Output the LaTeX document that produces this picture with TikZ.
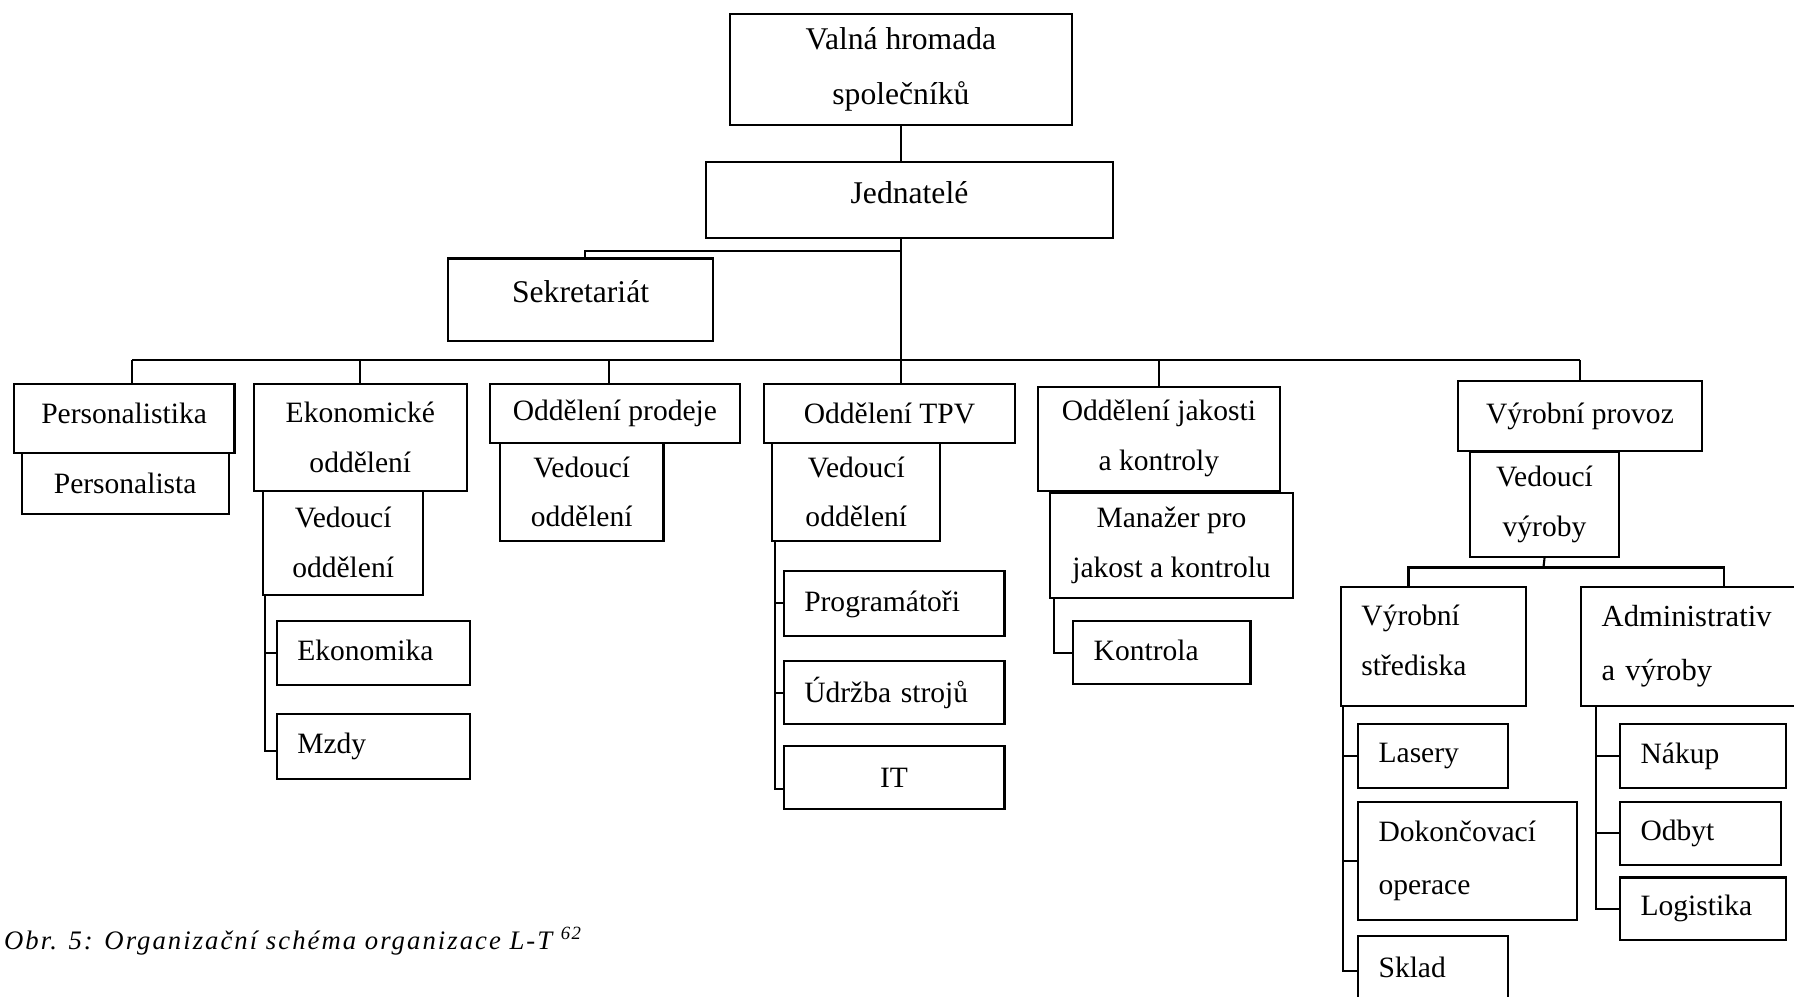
\documentclass[tikz,border=0pt]{standalone}
\usepackage{fontspec}
\setmainfont{Liberation Serif}

\def\px{0.011441cm}

\begin{document}
\begin{tikzpicture}[x=\px, y=-\px,
    box/.style={rectangle, draw, line width=0.6pt, anchor=north west, inner sep=0pt,
        align=center, font=\fontsize{8.4}{14.2}\selectfont},
    big/.style={font=\fontsize{9}{15.2}\selectfont},
    lbox/.style={box, align=left, inner xsep=18*\px},
    wh/.style 2 args={minimum width=#1*\px, minimum height=#2*\px},
    lwh/.style 2 args={text width=#1*\px-36*\px, minimum height=#2*\px},
    lift/.style={text depth=#1},
    link/.style={line width=0.6pt},
    caption/.style={anchor=base west, inner sep=0pt,
        font=\fontsize{7.6}{9}\selectfont\itshape\addfontfeatures{LetterSpace=7.6}}
]
\useasboundingbox (0,0) rectangle (1568,871);

% top
\node [box, big, wh={299}{97}, font=\fontsize{9}{15.6}\selectfont] (top) at (637,11) {Valná hromada\\společníků};
\node [box, big, wh={356}{66}, lift=4.4pt] (jed) at (616,141) {Jednatelé};
\node [box, big, wh={231}{72}, lift=4.4pt] (sek) at (391,225) {Sekretariát};

% departments
\node [box, wh={193}{60}, lift=3pt] (pers) at (11,335) {Personalistika};
\node [box, wh={181}{53}] (persa) at (18,395) {Personalista};

\node [box, wh={186}{93}] (eko) at (221,335) {Ekonomické\\oddělení};
\node [box, wh={140}{91}] (ekov) at (229,428) {Vedoucí\\oddělení};
\node [lbox, lwh={169}{56}, lift=1.5pt] (ekon) at (241,542) {Ekonomika};
\node [lbox, lwh={169}{57}] (mzdy) at (241,623) {Mzdy};

\node [box, wh={219}{51}] (prod) at (427,335) {Oddělení prodeje};
\node [box, wh={143}{86}] (prodv) at (436,386) {Vedoucí\\oddělení};

\node [box, wh={219}{51}] (tpv) at (667,335) {Oddělení TPV};
\node [box, wh={147}{86}] (tpvv) at (674,386) {Vedoucí\\oddělení};
\node [lbox, lwh={193}{57}, lift=1.5pt] (prog) at (684,498) {Programátoři};
\node [lbox, lwh={193}{55}] (udrz) at (684,577) {Údržba strojů};
\node [box, wh={193}{55}] (it) at (684,651) {IT};

\node [box, wh={212}{91}] (jak) at (906,337) {Oddělení jakosti\\a kontroly};
\node [box, wh={212}{92}] (man) at (917,430) {Manažer pro\\jakost a kontrolu};
\node [lbox, lwh={155}{55}, lift=1.5pt] (kont) at (937,542) {Kontrola};

\node [box, wh={214}{61}, lift=1.5pt] (vyr) at (1273,332) {Výrobní provoz};
\node [box, wh={130}{92}] (vyrv) at (1284,394) {Vedoucí\\výroby};
\node [lbox, lwh={162}{104}, lift=17.6pt] (stred) at (1171,512) {Výrobní\\střediska};
\node [lbox, lwh={200}{104}, font=\fontsize{8.7}{15.4}\selectfont] (adm) at (1381,512) {Administrativ\\a výroby};
\node [lbox, lwh={131}{56}] (las) at (1186,632) {Lasery};
\node [lbox, lwh={191}{103}, font=\fontsize{8.4}{15}\selectfont] (dok) at (1186,700) {Dokončovací\\operace};
\node [lbox, lwh={131}{56}] (skl) at (1186,817) {Sklad};
\node [lbox, lwh={145}{56}] (nak) at (1415,632) {Nákup};
\node [lbox, lwh={141}{55}] (odb) at (1415,700) {Odbyt};
\node [lbox, lwh={145}{55}] (log) at (1415,766) {Logistika};

% lines
\coordinate (sekj) at (787,219);
\coordinate (bus) at (787,315);
\coordinate (vj) at (1349,496);

\draw [link] (top.south) -- (top.south |- jed.north);
\draw [link] (top.south |- jed.south) -- (top.south |- tpv.north);
\draw [link] (sekj) -| ([xshift=4*\px]sek.north);
\draw [link] ([xshift=7*\px]pers.north |- bus) -- (vyr.north |- bus);
\draw [link] ([xshift=7*\px]pers.north |- bus) -- ([xshift=7*\px]pers.north);
\foreach \n in {eko, jak, vyr}
    \draw [link] (\n.north |- bus) -- (\n.north);
\draw [link] ([xshift=-5*\px]prod.north |- bus) -- ([xshift=-5*\px]prod.north);

\draw [link] ([xshift=3*\px]ekov.south west) |- (ekon.west);
\draw [link] ([xshift=3*\px]ekov.south west) |- ([yshift=-4*\px]mzdy.west);

\draw [link] ([xshift=3*\px]tpvv.south west) |- (prog.west);
\draw [link] ([xshift=3*\px]tpvv.south west) |- (udrz.west);
\draw [link] ([xshift=3*\px]tpvv.south west) |- ([yshift=-10*\px]it.west);

\draw [link] ([xshift=4*\px]man.south west) |- (kont.west);

\draw [link] (vyrv.south) -- (vj);
\draw [link] ([xshift=60*\px]stred.north west) |- (vj) -| ([xshift=126*\px]adm.north west);
\foreach \n in {las, dok}
    \draw [link] ([xshift=3*\px]stred.south west) |- (\n.west);
\draw [link] ([xshift=3*\px]stred.south west) |- ([yshift=-3*\px]skl.west);
\foreach \n in {nak, odb, log}
    \draw [link] ([xshift=14*\px]adm.south west) |- (\n.west);

\node [caption] (cap) at (3,830) {Obr. 5: Organizační schéma organizace L-T \textsuperscript{62}};
\end{tikzpicture}
\end{document}
